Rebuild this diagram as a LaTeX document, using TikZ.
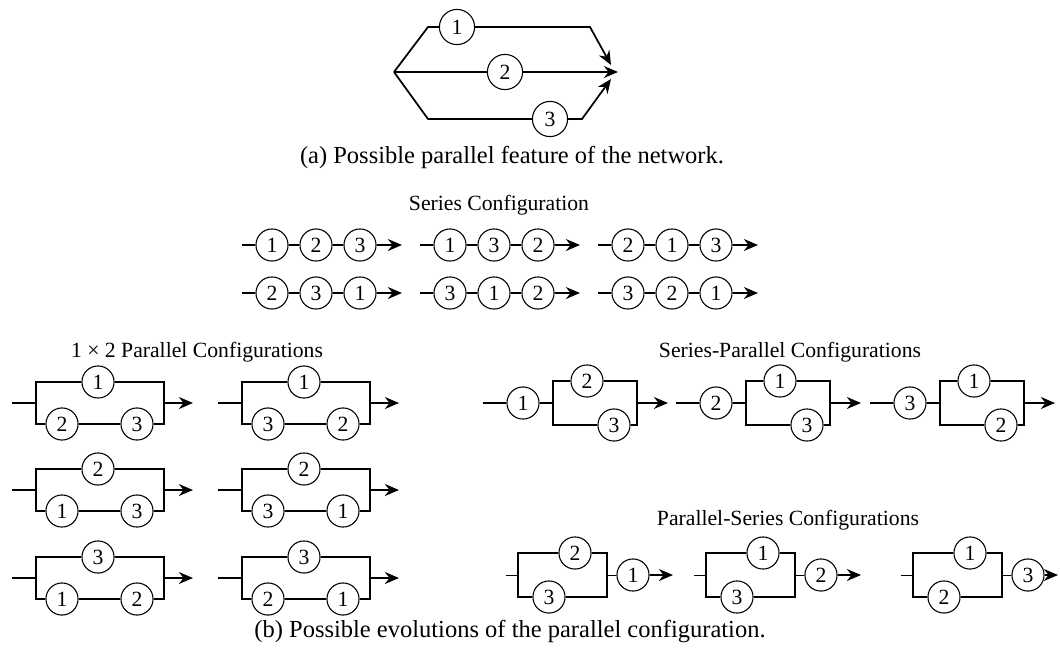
\documentclass[tikz,border=0pt]{standalone}
\usepackage{fontspec}
\setmainfont{Liberation Serif}
\usetikzlibrary{arrows.meta}

% one chain of three components in series
\newcommand{\seriesgroup}[6]{%
  \coordinate (#1-in) at (#2,#3);
  \node[comp] (#1-a) at (#2+30,#3) {#4};
  \node[comp] (#1-b) at (#2+74,#3) {#5};
  \node[comp] (#1-c) at (#2+118,#3) {#6};
  \coordinate (#1-out) at (#2+160,#3);
  \draw[wire] (#1-in) -- (#1-a) -- (#1-b) -- (#1-c);
  \draw[arrow] (#1-c) -- (#1-out);
}

% one component against two in series
\newcommand{\onebytwo}[6]{%
  \coordinate (#1-in) at (#2,#3);
  \coordinate (#1-w) at (#2+24,#3);
  \coordinate (#1-nw) at (#2+24,#3-21);
  \coordinate (#1-sw) at (#2+24,#3+21);
  \coordinate (#1-ne) at (#2+152,#3-21);
  \coordinate (#1-se) at (#2+152,#3+21);
  \coordinate (#1-e) at (#2+152,#3);
  \coordinate (#1-out) at (#2+181,#3);
  \node[comp] (#1-t) at (#2+86,#3-21) {#4};
  \node[comp] (#1-l) at (#2+50,#3+21) {#5};
  \node[comp] (#1-r) at (#2+125,#3+21) {#6};
  \draw[wire] (#1-in) -- (#1-w);
  \draw[wire] (#1-t) -- (#1-nw) -- (#1-sw) -- (#1-l) -- (#1-r) -- (#1-se) -- (#1-ne) -- (#1-t);
  \draw[arrow] (#1-e) -- (#1-out);
}

% series component, then a parallel pair
\newcommand{\serpar}[6]{%
  \coordinate (#1-in) at (#2,#3);
  \node[comp] (#1-s) at (#2+40,#3) {#4};
  \coordinate (#1-w) at (#2+70,#3);
  \coordinate (#1-nw) at (#2+70,#3-22);
  \coordinate (#1-sw) at (#2+70,#3+22);
  \coordinate (#1-ne) at (#2+154,#3-22);
  \coordinate (#1-se) at (#2+154,#3+22);
  \coordinate (#1-e) at (#2+154,#3);
  \coordinate (#1-out) at (#2+185,#3);
  \node[comp] (#1-t) at (#2+104,#3-22) {#5};
  \node[comp] (#1-b) at (#2+131,#3+22) {#6};
  \draw[wire] (#1-in) -- (#1-s) -- (#1-w);
  \draw[wire] (#1-t) -- (#1-nw) -- (#1-sw) -- (#1-b) -- (#1-se) -- (#1-ne) -- (#1-t);
  \draw[arrow] (#1-e) -- (#1-out);
}

% parallel pair, then a series component
\newcommand{\parser}[6]{%
  \coordinate (#1-in) at (#2,#3);
  \coordinate (#1-w) at (#2+12,#3);
  \coordinate (#1-nw) at (#2+12,#3-22);
  \coordinate (#1-sw) at (#2+12,#3+22);
  \coordinate (#1-ne) at (#2+101,#3-22);
  \coordinate (#1-se) at (#2+101,#3+22);
  \coordinate (#1-e) at (#2+101,#3);
  \node[comp] (#1-t) at (#2+69,#3-22) {#4};
  \node[comp] (#1-b) at (#2+43,#3+22) {#5};
  \node[comp] (#1-s) at (#2+127,#3) {#6};
  \coordinate (#1-out) at ({min(#2+167,1058)},#3);
  \draw[thinwire] (#1-in) -- (#1-w);
  \draw[wire] (#1-t) -- (#1-nw) -- (#1-sw) -- (#1-b) -- (#1-se) -- (#1-ne) -- (#1-t);
  \draw[thinwire] (#1-e) -- (#1-s);
  \draw[arrow] (#1-s) -- (#1-out);
}

\begin{document}
\begin{tikzpicture}[
    x=0.0162cm, y=-0.0162cm,
    comp/.style={circle, draw, line width=0.5pt, fill=white, inner sep=0pt,
                 minimum size=0.52cm, font=\normalsize},
    bigcomp/.style={comp, minimum size=0.57cm},
    wire/.style={line width=0.8pt},
    thinwire/.style={line width=0.45pt},
    arrow/.style={wire, -{Stealth[length=6.5pt, width=5.5pt]}},
    title/.style={font=\normalsize},
    caption/.style={font=\fontsize{11.3}{13}\selectfont}
]
\useasboundingbox (0,0) rectangle (1060,653);

% (a) the parallel network
\coordinate (src) at (394,72);
\coordinate (up) at (428,27);
\coordinate (down) at (428,119);
\node[bigcomp] (p1) at (457,27) {1};
\node[bigcomp] (p2) at (505,72) {2};
\node[bigcomp] (p3) at (550,119) {3};
\coordinate (p1end) at (590,27);
\coordinate (p3end) at (582,119);
\coordinate (tip1) at (611,65);
\coordinate (tip2) at (618,72);
\coordinate (tip3) at (611,79);
\draw[wire] (src) -- (up) -- (p1);
\draw[arrow] (p1) -- (p1end) -- (tip1);
\draw[wire] (src) -- (p2);
\draw[arrow] (p2) -- (tip2);
\draw[wire] (src) -- (down) -- (p3);
\draw[arrow] (p3) -- (p3end) -- (tip3);
\node[caption] (capa) at (512,157) {(a) Possible parallel feature of the network.};

% (b) series
\node[title] (sertitle) at (499,205) {Series Configuration};
\seriesgroup{s1}{242}{245}{1}{2}{3}
\seriesgroup{s2}{420}{245}{1}{3}{2}
\seriesgroup{s3}{598}{245}{2}{1}{3}
\seriesgroup{s4}{242}{293}{2}{3}{1}
\seriesgroup{s5}{420}{293}{3}{1}{2}
\seriesgroup{s6}{598}{293}{3}{2}{1}

% (b) 1 x 2 parallel
\node[title] (partitle) at (197,352) {1 × 2 Parallel Configurations};
\onebytwo{q1}{12}{403}{1}{2}{3}
\onebytwo{q2}{218}{403}{1}{3}{2}
\onebytwo{q3}{12}{490}{2}{1}{3}
\onebytwo{q4}{218}{490}{2}{3}{1}
\onebytwo{q5}{12}{578}{3}{1}{2}
\onebytwo{q6}{218}{578}{3}{2}{1}

% (b) series-parallel
\node[title] (sptitle) at (790,352) {Series-Parallel Configurations};
\serpar{sp1}{483}{403}{1}{2}{3}
\serpar{sp2}{676}{403}{2}{1}{3}
\serpar{sp3}{870}{403}{3}{1}{2}

% (b) parallel-series
\node[title] (pstitle) at (788,520) {Parallel-Series Configurations};
\parser{ps1}{506}{575}{2}{3}{1}
\parser{ps2}{694}{575}{1}{3}{2}
\parser{ps3}{901}{575}{1}{2}{3}

\node[caption] (capb) at (510,632) {(b) Possible evolutions of the parallel configuration.};
\end{tikzpicture}
\end{document}
